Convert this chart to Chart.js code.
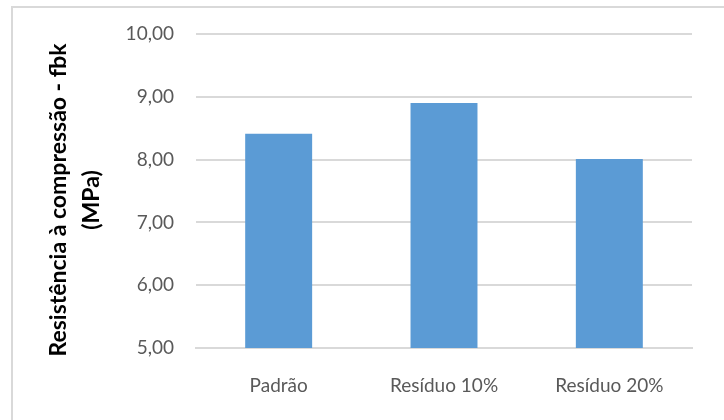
<!DOCTYPE html>
<html>
<head>
<meta charset="utf-8">
<script src="https://cdn.jsdelivr.net/npm/chart.js@4/dist/chart.umd.min.js"></script>
<style>
  html, body { margin: 0; padding: 0; background: #fff; overflow: hidden; }
  #wrap { position: relative; width: 724px; height: 420px; }
  #frame { position: absolute; left: 11px; top: 6px; width: 800px; height: 500px;
           border: 2px solid #d9d9d9; box-sizing: border-box; }
  canvas { position: absolute; left: 0; top: 0; }
</style>
</head>
<body>
<div id="wrap">
  <div id="frame"></div>
  <canvas id="c" width="724" height="420"></canvas>
</div>
<script>
const categories = ['Padrão', 'Resíduo 10%', 'Resíduo 20%'];
const fbkValues = [8.41, 8.90, 8.01];
const yTitleLines = ['Resistência à compressão - fbk', '(MPa)'];
const yMin = 5, yMax = 10, yStep = 1;

const fmt = v => v.toFixed(2).replace('.', ',');

// Vertical axis title, two rotated lines centred a little below the plot middle
const yTitlePlugin = {
  id: 'yTitle',
  afterDraw(chart) {
    const ctx = chart.ctx;
    const a = chart.chartArea;
    ctx.save();
    ctx.translate(59, (a.top + a.bottom) / 2 + 9);
    ctx.rotate(-Math.PI / 2);
    ctx.fillStyle = '#000';
    ctx.font = 'bold 23px Lato';
    ctx.textAlign = 'center';
    ctx.textBaseline = 'middle';
    yTitleLines.forEach((t, i) => ctx.fillText(t, 0, i * 33));
    ctx.restore();
  }
};

new Chart(document.getElementById('c'), {
  type: 'bar',
  data: {
    labels: categories,
    datasets: [{
      data: fbkValues,
      backgroundColor: '#5b9bd5',
      barPercentage: 0.405,
      categoryPercentage: 1.0
    }]
  },
  options: {
    responsive: false,
    animation: false,
    layout: { padding: { top: 34, right: 32, bottom: 0, left: 0 } },
    plugins: { legend: { display: false }, tooltip: { enabled: false } },
    scales: {
      x: {
        grid: { display: false, drawTicks: false },
        border: { display: true, color: '#d9d9d9', width: 2 },
        ticks: { color: '#595959', font: { family: 'Lato', size: 19 }, padding: 26 },
        afterFit: s => { s.height = 72; }
      },
      y: {
        min: yMin, max: yMax,
        grid: { color: '#d9d9d9', lineWidth: 2, drawTicks: false },
        border: { display: false },
        ticks: { stepSize: yStep, color: '#595959', font: { family: 'Lato', size: 19 }, padding: 22,
                 callback: v => fmt(v) },
        afterFit: s => { s.width = 196; }
      }
    }
  },
  plugins: [yTitlePlugin]
});
</script>
</body>
</html>
